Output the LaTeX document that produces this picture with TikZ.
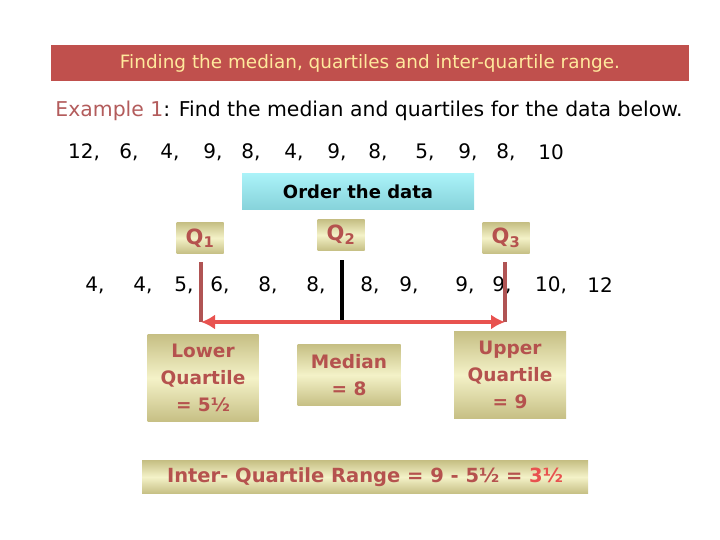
\documentclass[tikz,border=0pt]{standalone}
\usepackage{fontspec}
\usetikzlibrary{arrows.meta}
\setmainfont{DejaVu Sans}
\definecolor{titlered}{HTML}{C0504D}
\definecolor{titletext}{HTML}{FFE99C}
\definecolor{exred}{HTML}{B35C5C}
\definecolor{khakidark}{HTML}{C6BF84}
\definecolor{khakilight}{HTML}{F4F2C8}
\definecolor{boxtext}{HTML}{B5524E}
\definecolor{qline}{HTML}{B05454}
\definecolor{arrowred}{HTML}{E8524F}
\definecolor{cyanlight}{HTML}{AAF2F8}
\definecolor{cyandark}{HTML}{86D2DA}
\newcommand{\fs}[1]{\fontsize{#1}{1.2\dimexpr #1pt\relax}\selectfont}
\begin{document}
\begin{tikzpicture}[
	x=1pt, y=-1pt,
	titlebar/.style={ fill=titlered, text=titletext, inner sep=0pt, minimum width=638pt, minimum height=36pt, font=\fs{18.4} },
	datum/.style={ inner sep=0pt, font=\fs{20} },
	khakibox/.style={ top color=khakidark, bottom color=khakidark, middle color=khakilight, inner sep=0pt, text=boxtext, font=\bfseries\fontsize{18.5}{27}\selectfont, align=center },
	qbox/.style={ khakibox, minimum width=47pt, minimum height=31pt, font=\bfseries\fs{21} },
	orderbox/.style={ top color=cyanlight, bottom color=cyandark, inner sep=0pt, minimum width=232pt, minimum height=36pt, font=\bfseries\fs{18} }
]
\useasboundingbox (0,0) rectangle (720,540);

\node at (370,63) (title) [titlebar] {Finding the median, quartiles and inter-quartile range.};
\node at (369,111) (example) [font=\fs{20.4}, inner sep=0pt] {\textcolor{exred}{Example 1}: Find the median and quartiles for the data below.};

% the data as given
\foreach \x/\v [count=\i] in {84/{12,},129/{6,},170/{4,},213/{9,},251/{8,},294/{4,},337/{9,},378/{8,},425/{5,},468/{9,},506/{8,},551/10}
	\node at (\x,152) (raw\i) [datum] {\v};

\node at (358,192) (order) [orderbox] {Order the data};

% the data in order
\foreach \x/\v [count=\i] in {95/{4,},143/{4,},184/{5,},220/{6,},268/{8,},316/{8,},370/{8,},409/{9,},465/{9,},502/{9,},551/{10,},600/12}
	\node at (\x,285) (sorted\i) [datum] {\v};

\node at (200,238) (q1) [qbox] {Q\textsubscript{1}};
\node at (341,235) (q2) [qbox] {Q\textsubscript{2}};
\node at (506,238) (q3) [qbox] {Q\textsubscript{3}};

\coordinate (q1top) at (201,262);
\coordinate (q1foot) at (201,322);
\coordinate (q2top) at (342,260);
\coordinate (q2foot) at (342,322);
\coordinate (q3top) at (505,262);
\coordinate (q3foot) at (505,322);
\draw[qline, line width=3.5pt] (q1top) -- (q1foot);
\draw[qline, line width=3.5pt] (q3top) -- (q3foot);
\draw[black, line width=3.5pt] (q2top) -- (q2foot);
\draw[arrowred, line width=4.5pt, {Latex[length=14pt,width=15pt]}-{Latex[length=14pt,width=15pt]}] (q1foot) -- (q3foot);

\node at (203,378) (lower) [khakibox, minimum width=111pt, minimum height=87pt] {Lower\\Quartile\\= 5½};
\node at (349,375) (median) [khakibox, minimum width=103pt, minimum height=61pt] {Median\\= 8};
\node at (510,375) (upper) [khakibox, minimum width=112pt, minimum height=87pt] {Upper\\Quartile\\= 9};

\node at (365,477) (iqr) [khakibox, minimum width=446pt, minimum height=33pt, font=\bfseries\fs{19.5}] {Inter- Quartile Range = 9 - 5½ = \textcolor{arrowred}{3½}};

\end{tikzpicture}
\end{document}
